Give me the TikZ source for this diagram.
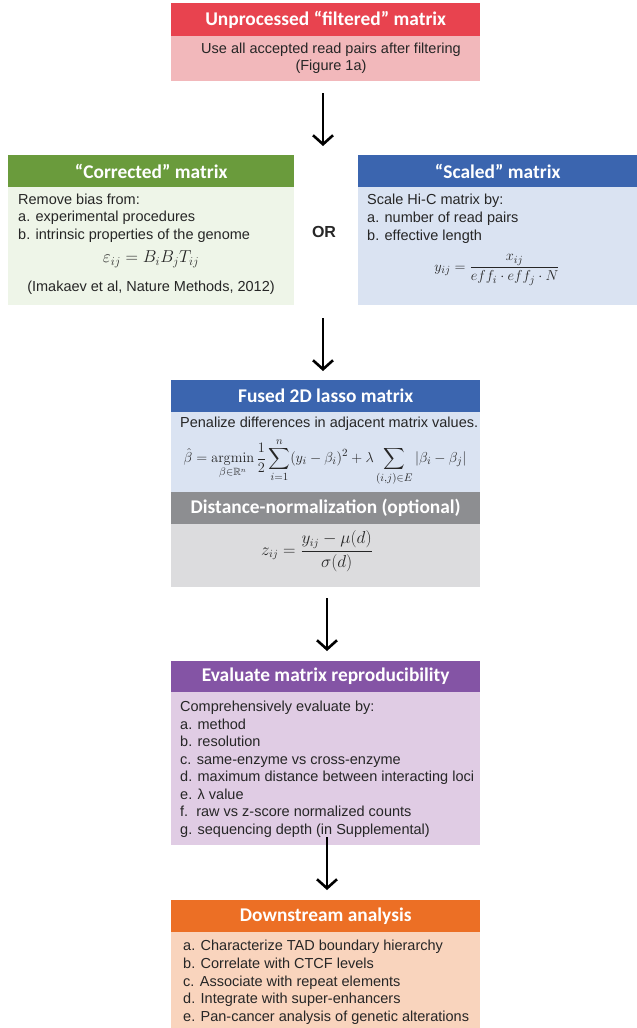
\documentclass[tikz,border=0pt]{standalone}
\usepackage{amsmath,amssymb}
\usepackage[no-math]{fontspec}
\setmainfont{Liberation Sans}
\newfontfamily\hdrfont{Carlito}
\usetikzlibrary{arrows.meta}
\definecolor{redh}{HTML}{E8434F}
\definecolor{redb}{HTML}{F2B8BB}
\definecolor{greenh}{HTML}{6A9B3C}
\definecolor{greenb}{HTML}{EEF5E8}
\definecolor{blueh}{HTML}{3B65AF}
\definecolor{blueb}{HTML}{DAE3F2}
\definecolor{grayh}{HTML}{8D8E91}
\definecolor{grayb}{HTML}{DCDCDE}
\definecolor{purph}{HTML}{8454A5}
\definecolor{purpb}{HTML}{E0CCE4}
\definecolor{orangeh}{HTML}{EC6F25}
\definecolor{orangeb}{HTML}{F9D4BD}
\definecolor{txtc}{HTML}{262626}
\tikzset{
  hdr/.style={anchor=north west, inner sep=0pt, text=white,
    font=\hdrfont\bfseries\fontsize{19.4}{22}\selectfont},
  bodybox/.style={anchor=north west, inner sep=0pt},
  txt/.style={inner sep=0pt, text=txtc, font=\fontsize{14.5}{17}\selectfont},
  line/.style={txt, anchor=base west},
  cline/.style={txt, anchor=base},
  formula/.style={inner sep=0pt, text=txtc, font=\fontsize{15}{17}\selectfont},
  arr/.style={line width=2.6pt, draw=black, -{Straight Barb[length=9pt,width=20pt]}},
}
\begin{document}
\begin{tikzpicture}[x=1pt,y=-1pt]
\useasboundingbox (0,0) rectangle (637,1028);

% Top box
\node[hdr, fill=redh, minimum width=309pt, minimum height=33pt] (h1) at (171,3) {Unprocessed “filtered” matrix};
\node[bodybox, fill=redb, minimum width=309pt, minimum height=45pt] (b1) at (171,36) {};
\node[cline] (t1a) at (331,53) {Use all accepted read pairs after filtering};
\node[cline] (t1b) at (331,70) {(Figure 1a)};

% Arrow 1
\coordinate (a1s) at (323,93);
\coordinate (a1e) at (323,146);
\draw[arr] (a1s) -- (a1e);

% Corrected box
\node[hdr, fill=greenh, minimum width=286pt, minimum height=32pt] (h2) at (8,155) {“Corrected” matrix};
\node[bodybox, fill=greenb, minimum width=286pt, minimum height=118pt] (b2) at (8,187) {};
\node[line] (t2a) at (18,204) {Remove bias from:};
\node[line] (t2b) at (18,221.5) {a. experimental procedures};
\node[line] (t2c) at (18,239) {b. intrinsic properties of the genome};
\node[formula, font=\fontsize{16.5}{18}\selectfont] (f2) at (151,259) {$\varepsilon_{ij} = B_iB_jT_{ij}$};
\node[cline] (t2d) at (151,291) {(Imakaev et al, Nature Methods, 2012)};

% OR
\node[inner sep=0pt, text=txtc, font=\bfseries\fontsize{16}{18}\selectfont] (or) at (324,232) {OR};

% Scaled box
\node[hdr, fill=blueh, minimum width=279pt, minimum height=32pt] (h3) at (358,155) {“Scaled” matrix};
\node[bodybox, fill=blueb, minimum width=279pt, minimum height=118pt] (b3) at (358,187) {};
\node[line] (t3a) at (367,204) {Scale Hi-C matrix by:};
\node[line] (t3b) at (367,222) {a. number of read pairs};
\node[line] (t3c) at (367,240) {b. effective length};
\node[formula] (f3) at (497,270) {$y_{ij} = \dfrac{x_{ij}}{eff_i\cdot eff_j\cdot N}$};

% Arrow 2
\coordinate (a2s) at (323,318);
\coordinate (a2e) at (323,371);
\draw[arr] (a2s) -- (a2e);

% Fused lasso box
\node[hdr, fill=blueh, minimum width=309pt, minimum height=32pt] (h4) at (171,380) {Fused 2D lasso matrix};
\node[bodybox, fill=blueb, minimum width=309pt, minimum height=80pt] (b4) at (171,412) {};
\node[line] (t4a) at (180,427) {Penalize differences in adjacent matrix values.};
\node[formula] (f4) at (325,462) {$\displaystyle \hat\beta = \operatorname*{argmin}_{\beta\in\mathbb{R}^n}\frac{1}{2}\sum_{i=1}^{n}(y_i-\beta_i)^2+\lambda\sum_{(i,j)\in E}\left|\beta_i-\beta_j\right|$};
\node[hdr, fill=grayh, minimum width=309pt, minimum height=32pt] (h5) at (171,492) {Distance-normalization (optional)};
\node[bodybox, fill=grayb, minimum width=309pt, minimum height=63pt] (b5) at (171,524) {};
\node[formula, font=\fontsize{16}{18}\selectfont] (f5) at (317,551) {$z_{ij} = \dfrac{y_{ij}-\mu(d)}{\sigma(d)}$};

% Arrow 3
\coordinate (a3s) at (327,598);
\coordinate (a3e) at (327,651);
\draw[arr] (a3s) -- (a3e);

% Evaluate box
\node[hdr, fill=purph, minimum width=309pt, minimum height=31pt] (h6) at (171,661) {Evaluate matrix reproducibility};
\node[bodybox, fill=purpb, minimum width=309pt, minimum height=153pt] (b6) at (171,692) {};
\node[line] (e1) at (180,711.5) {Comprehensively evaluate by:};
\node[line] (e2) at (180,729.1) {a. method};
\node[line] (e3) at (180,746.6) {b. resolution};
\node[line] (e4) at (180,764.2) {c. same-enzyme vs cross-enzyme};
\node[line] (e5) at (180,781.8) {d. maximum distance between interacting loci};
\node[line] (e6) at (180,799.4) {e. λ value};
\node[line] (e7) at (180,816.9) {f.\ \ raw vs z-score normalized counts};
\node[line] (e8) at (180,834.5) {g. sequencing depth (in Supplemental)};

% Arrow 4
\coordinate (a4s) at (327,837);
\coordinate (a4e) at (327,890);
\draw[arr] (a4s) -- (a4e);

% Downstream box
\node[hdr, fill=orangeh, minimum width=309pt, minimum height=32pt] (h7) at (171,900) {Downstream analysis};
\node[bodybox, fill=orangeb, minimum width=309pt, minimum height=96pt] (b7) at (171,932) {};
\node[line] (d1) at (183,950.5) {a. Characterize TAD boundary hierarchy};
\node[line] (d2) at (183,968.2) {b. Correlate with CTCF levels};
\node[line] (d3) at (183,986) {c. Associate with repeat elements};
\node[line] (d4) at (183,1003.7) {d. Integrate with super-enhancers};
\node[line] (d5) at (183,1021.5) {e. Pan-cancer analysis of genetic alterations};
\end{tikzpicture}
\end{document}
